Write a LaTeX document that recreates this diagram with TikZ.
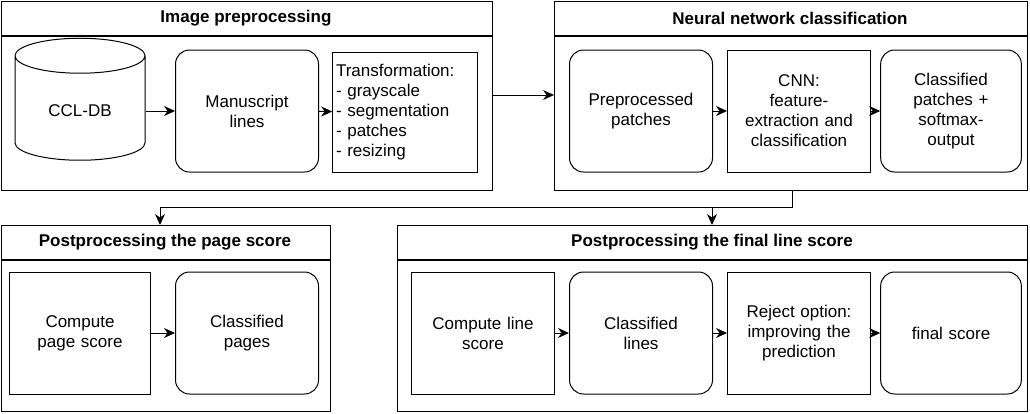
\documentclass[tikz,border=0pt]{standalone}
\usepackage{fontspec}
\setmainfont{Liberation Sans}
\usetikzlibrary{shapes.geometric,arrows.meta}
\begin{document}
\begin{tikzpicture}[x=1pt,y=-1pt,
  every node/.style={font=\fontsize{17}{20}\selectfont},
  outer/.style={draw,line width=1.2pt,inner sep=0},
  title/.style={font=\bfseries\fontsize{17}{20}\selectfont},
  rbox/.style={draw,line width=1pt,rounded corners=14pt,minimum width=143pt,minimum height=122pt,align=center,text width=134pt},
  sbox/.style={draw,line width=1pt,minimum width=143pt,minimum height=122pt,align=center,text width=134pt},
  arr/.style={-{Stealth[length=11pt,width=10pt]},line width=1pt}]
\useasboundingbox (0,0) rectangle (1030,413);
% outer frames
\node[outer,minimum width=491pt,minimum height=189pt,anchor=north west] (ip) at (1,1) {};
\draw[line width=1.2pt] (1,36) -- (492,36);
\node[title] at (246,18) {Image preprocessing};
\node[outer,minimum width=473pt,minimum height=189pt,anchor=north west] (nn) at (554,1) {};
\draw[line width=1.2pt] (554,36) -- (1027,36);
\node[title] at (790,18) {Neural network classification};
\node[outer,minimum width=329pt,minimum height=186pt,anchor=north west] (ps) at (1,225) {};
\draw[line width=1.2pt] (1,260) -- (330,260);
\node[title] at (165,242) {Postprocessing the page score};
\node[outer,minimum width=630pt,minimum height=186pt,anchor=north west] (fs) at (397,225) {};
\draw[line width=1.2pt] (397,260) -- (1027,260);
\node[title] at (712,242) {Postprocessing the final line score};
% inner
\node[draw,line width=1pt,cylinder,shape border rotate=90,aspect=0.5,minimum width=130pt,minimum height=122pt] (db) at (80,111) {CCL-DB};
\node[rbox] (ml) at (247,111) {Manuscript\\lines};
\node[sbox,minimum width=144pt,minimum height=120pt,align=left,text width=138pt] (tr) at (405,112) {Transformation:\\- grayscale\\- segmentation\\- patches\\- resizing};
\node[rbox] (pp) at (641,111) {Preprocessed\\patches};
\node[sbox] (cnn) at (799,111) {CNN:\\feature-\\extraction and\\classification};
\node[rbox,minimum width=131pt] (cp) at (951,111) {Classified\\patches +\\softmax-\\output};
\node[sbox,minimum width=130pt] (cps) at (80,333) {Compute\\page score};
\node[rbox] (cpg) at (247,333) {Classified\\pages};
\node[sbox] (cls) at (483,333) {Compute line\\score};
\node[rbox] (cl) at (641,333) {Classified\\lines};
\node[sbox] (rj) at (799,333) {Reject option:\\improving the\\prediction};
\node[rbox,minimum width=131pt] (fsc) at (951,333) {final score};
% arrows
\draw[arr] (db) -- (ml);
\draw[arr] (ml) -- (tr);
\draw[arr] (pp) -- (cnn);
\draw[arr] (cnn) -- (cp);
\draw[arr] (cps) -- (cpg);
\draw[arr] (cls) -- (cl);
\draw[arr] (cl) -- (rj);
\draw[arr] (rj) -- (fsc);
\draw[arr] (ip.east |- 0,95) -- (nn.west |- 0,95);
\coordinate (j) at (792,207);
\draw[arr] (nn.south -| j) -- (j) -| (ps.north -| 160,0);
\draw[arr] (j) -| (fs.north -| 712,0);
\end{tikzpicture}
\end{document}
